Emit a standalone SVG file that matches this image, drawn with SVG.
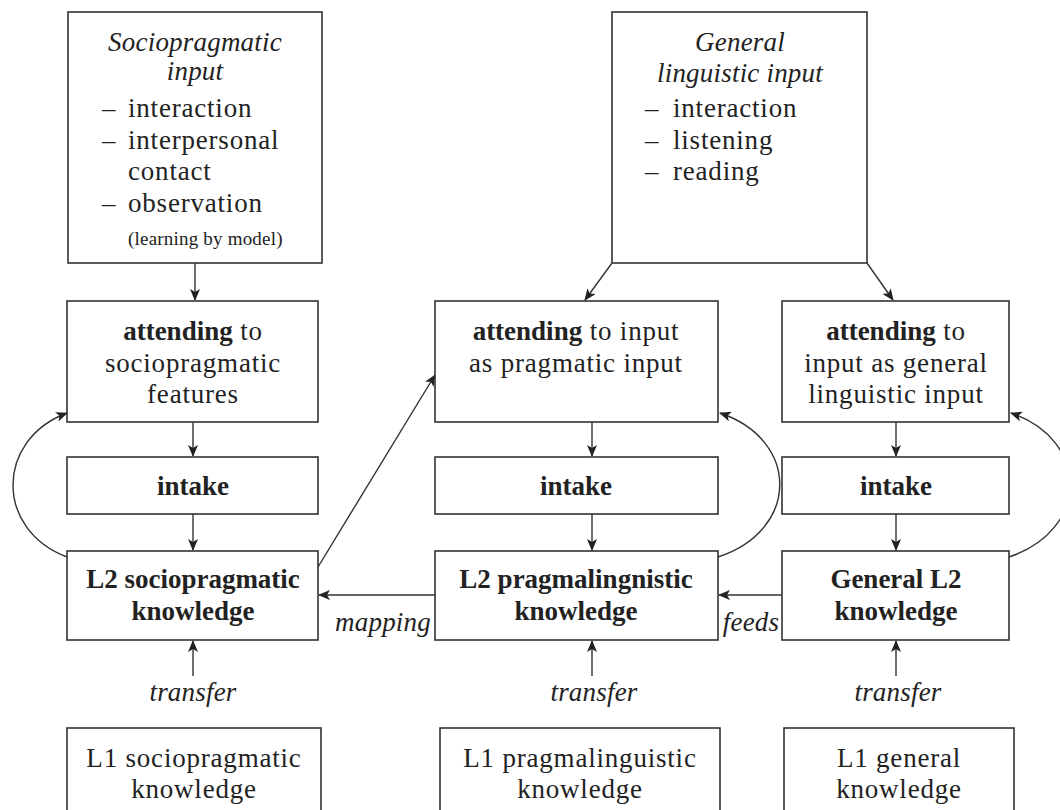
<svg xmlns="http://www.w3.org/2000/svg" width="1060" height="810" viewBox="0 0 1060 810">
<defs>
<marker id="ah" markerUnits="userSpaceOnUse" markerWidth="12" markerHeight="10" refX="11" refY="5" orient="auto">
<path d="M0,0 L12,5 L0,10 L3,5 z" fill="#222"/>
</marker>
<style>
.box{fill:#fff;stroke:#333;stroke-width:1.6}
.c{fill:none;stroke:#333;stroke-width:1.4;marker-end:url(#ah)}
text{font-family:"Liberation Serif","Times New Roman",serif;font-size:27px;fill:#222;letter-spacing:0.8px}
.m{text-anchor:middle}
.i{font-style:italic;letter-spacing:0.2px}
.b{font-weight:bold;letter-spacing:0}
.s{font-size:19px;letter-spacing:0.2px}
</style>
</defs>
<g id="connectors">
<line class="c" x1="195" y1="263" x2="195" y2="300"/>
<line class="c" x1="612" y1="263" x2="585" y2="300"/>
<line class="c" x1="867" y1="263" x2="893" y2="300"/>
<line class="c" x1="193" y1="422" x2="193" y2="456"/>
<line class="c" x1="193" y1="514" x2="193" y2="550"/>
<line class="c" x1="592" y1="422" x2="592" y2="456"/>
<line class="c" x1="592" y1="514" x2="592" y2="550"/>
<line class="c" x1="896" y1="422" x2="896" y2="456"/>
<line class="c" x1="896" y1="514" x2="896" y2="550"/>
<line class="c" x1="318" y1="567" x2="435" y2="375"/>
<line class="c" x1="435" y1="595" x2="319" y2="595"/>
<line class="c" x1="782" y1="595" x2="719" y2="595"/>
<path class="c" d="M67,557 C-5,530 -5,440 67,413"/>
<path class="c" d="M718,557 C800,530 800,440 720,413"/>
<path class="c" d="M1009,557 C1090,530 1090,440 1011,413"/>
<line class="c" x1="193" y1="676" x2="193" y2="641"/>
<line class="c" x1="592" y1="676" x2="592" y2="641"/>
<line class="c" x1="896" y1="676" x2="896" y2="641"/>
<text class="i m" x="383" y="631">mapping</text>
<text class="i m" x="751" y="631">feeds</text>
<text class="i m" x="193" y="701">transfer</text>
<text class="i m" x="594" y="701">transfer</text>
<text class="i m" x="898" y="701">transfer</text>
</g>
<g id="socio-input">
<rect class="box" x="68" y="12" width="254" height="251"/>
<text class="i m" x="195" y="51">Sociopragmatic</text>
<text class="i m" x="195" y="80">input</text>
<text x="102" y="117">–</text><text x="128" y="117">interaction</text>
<text x="102" y="149">–</text><text x="128" y="149">interpersonal</text>
<text x="128" y="180">contact</text>
<text x="102" y="212">–</text><text x="128" y="212">observation</text>
<text class="s" x="128" y="245">(learning by model)</text>
</g>
<g id="general-input">
<rect class="box" x="612" y="12" width="255" height="251"/>
<text class="i m" x="740" y="51">General</text>
<text class="i m" x="740" y="82">linguistic input</text>
<text x="645" y="117">–</text><text x="673" y="117">interaction</text>
<text x="645" y="149">–</text><text x="673" y="149">listening</text>
<text x="645" y="180">–</text><text x="673" y="180">reading</text>
</g>
<g id="attend-socio">
<rect class="box" x="67" y="301" width="251" height="121"/>
<text class="m" x="193" y="340"><tspan class="b">attending</tspan> to</text>
<text class="m" x="193" y="372">sociopragmatic</text>
<text class="m" x="193" y="403">features</text>
</g>
<g id="attend-prag">
<rect class="box" x="435" y="301" width="283" height="121"/>
<text class="m" x="576" y="340"><tspan class="b">attending</tspan> to input</text>
<text class="m" x="576" y="372">as pragmatic input</text>
</g>
<g id="attend-gen">
<rect class="box" x="782" y="301" width="227" height="121"/>
<text class="m" x="896" y="340"><tspan class="b">attending</tspan> to</text>
<text class="m" x="896" y="372">input as general</text>
<text class="m" x="896" y="403">linguistic input</text>
</g>
<g id="intake-socio">
<rect class="box" x="67" y="457" width="251" height="57"/>
<text class="m b" x="193" y="495">intake</text>
</g>
<g id="intake-prag">
<rect class="box" x="435" y="457" width="283" height="57"/>
<text class="m b" x="576" y="495">intake</text>
</g>
<g id="intake-gen">
<rect class="box" x="782" y="457" width="227" height="57"/>
<text class="m b" x="896" y="495">intake</text>
</g>
<g id="l2-socio">
<rect class="box" x="67" y="551" width="251" height="89"/>
<text class="m b" x="193" y="588">L2 sociopragmatic</text>
<text class="m b" x="193" y="620">knowledge</text>
</g>
<g id="l2-prag">
<rect class="box" x="435" y="551" width="283" height="89"/>
<text class="m b" x="576" y="588">L2 pragmalingnistic</text>
<text class="m b" x="576" y="620">knowledge</text>
</g>
<g id="l2-gen">
<rect class="box" x="782" y="551" width="227" height="89"/>
<text class="m b" x="896" y="588">General L2</text>
<text class="m b" x="896" y="620">knowledge</text>
</g>
<g id="l1-socio">
<rect class="box" x="67" y="728" width="254" height="100"/>
<text class="m" x="194" y="767">L1 sociopragmatic</text>
<text class="m" x="194" y="798">knowledge</text>
</g>
<g id="l1-prag">
<rect class="box" x="440" y="728" width="280" height="100"/>
<text class="m" x="580" y="767">L1 pragmalinguistic</text>
<text class="m" x="580" y="798">knowledge</text>
</g>
<g id="l1-gen">
<rect class="box" x="784" y="728" width="230" height="100"/>
<text class="m" x="899" y="767">L1 general</text>
<text class="m" x="899" y="798">knowledge</text>
</g>
</svg>
